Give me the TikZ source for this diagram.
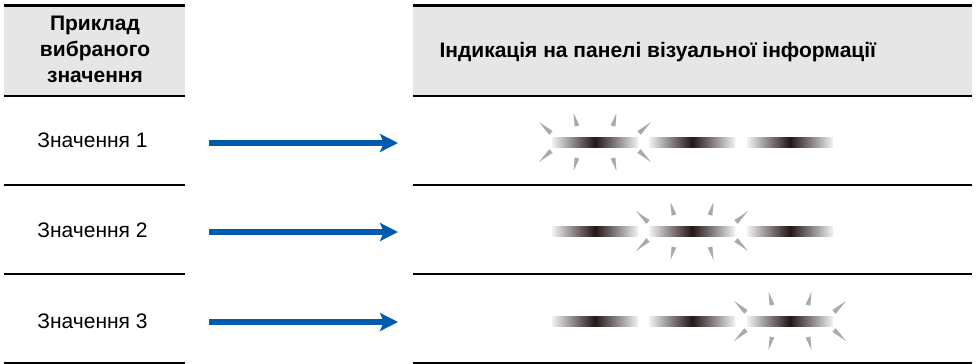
\documentclass[tikz,border=0pt]{standalone}
\usepackage{fontspec}
\setmainfont{Liberation Sans}
\usetikzlibrary{positioning, arrows.meta}
\definecolor{headgray}{RGB}{230,230,230}
\definecolor{arrowblue}{RGB}{0,91,172}
\definecolor{glintgray}{RGB}{170,170,170}
\definecolor{bardark}{RGB}{35,22,22}
\tikzset{
  headbox/.style={rectangle, fill=headgray, inner sep=0pt},
  rule/.style={line width=2pt, black},
  toprule/.style={line width=2.6pt, black},
  valuelabel/.style={font=\fontsize{21}{25}\selectfont, anchor=base},
  headlabel/.style={font=\bfseries\fontsize{21}{26}\selectfont, align=center},
  pointer/.style={line width=6pt, arrowblue, -{Stealth[length=18pt, width=18pt, inset=4pt]}},
  lamp/.style={rectangle, minimum width=86pt, minimum height=10pt, inner sep=0pt,
    left color=black!5, right color=black!5, middle color=bardark},
  glint/.pic={
    \foreach \sx in {1,-1}{
      \foreach \sy in {1,-1}{
        \fill[glintgray, xscale=\sx, yscale=\sy] (-56,-20) -- (-42.3,-10.8) -- (-45.7,-7.2) -- cycle;
        \fill[glintgray, xscale=\sx, yscale=\sy] (-21.5,-29) -- (-15.6,-16.6) -- (-20.4,-15.4) -- cycle;
      }
    }
  }
}

\begin{document}
\begin{tikzpicture}[x=1pt, y=-1pt]
\useasboundingbox (0,0) rectangle (977,364);

% Header cells
\node[headbox, minimum width=181pt, minimum height=90pt] (hleft) at (94.5,50.5) {};
\node[headbox, minimum width=559pt, minimum height=90pt] (hright) at (692.5,50.5) {};
\node[headlabel] (hleftText) at (95,49.5) {Приклад\\вибраного\\значення};
\node[headlabel, anchor=base west] (hrightText) at (436,57.5) {Індикація на панелі візуальної інформації};

% Rules
\draw[toprule] (hleft.north west) -- (hleft.north east);
\draw[toprule] (hright.north west) -- (hright.north east);
\draw[rule] (hleft.south west) -- (hleft.south east);
\draw[rule] (hright.south west) -- (hright.south east);
\coordinate (l1) at (4,185);   \coordinate (r1) at (185,185);
\coordinate (l2) at (4,274);   \coordinate (r2) at (185,274);
\coordinate (l3) at (4,362.5); \coordinate (r3) at (185,362.5);
\coordinate (m1) at (413,185);   \coordinate (e1) at (972,185);
\coordinate (m2) at (413,274);   \coordinate (e2) at (972,274);
\coordinate (m3) at (413,362.5); \coordinate (e3) at (972,362.5);
\draw[rule] (l1) -- (r1);  \draw[rule] (m1) -- (e1);
\draw[rule] (l2) -- (r2);  \draw[rule] (m2) -- (e2);
\draw[rule] (l3) -- (r3);  \draw[rule] (m3) -- (e3);

% Value labels
\node[valuelabel] (val1) at (92.5,147.5) {Значення 1};
\node[valuelabel] (val2) at (92.5,237.5) {Значення 2};
\node[valuelabel] (val3) at (92.5,328) {Значення 3};

% Pointers
\coordinate (from1) at (209,143); \coordinate (to1) at (398,143);
\coordinate (from2) at (209,232); \coordinate (to2) at (398,232);
\coordinate (from3) at (209,322); \coordinate (to3) at (398,322);
\draw[pointer] (from1) -- (to1);
\draw[pointer] (from2) -- (to2);
\draw[pointer] (from3) -- (to3);

% Row 1
\node[lamp] (lamp11) at (595,142) {};
\node[lamp] (lamp12) at (692,142) {};
\node[lamp] (lamp13) at (790,142) {};
\pic at (lamp11.center) {glint};

% Row 2
\node[lamp] (lamp21) at (595,231) {};
\node[lamp] (lamp22) at (692,231) {};
\node[lamp] (lamp23) at (790,231) {};
\pic at (lamp22.center) {glint};

% Row 3
\node[lamp] (lamp31) at (595,321) {};
\node[lamp] (lamp32) at (692,321) {};
\node[lamp] (lamp33) at (790,321) {};
\pic at (lamp33.center) {glint};

\end{tikzpicture}
\end{document}
